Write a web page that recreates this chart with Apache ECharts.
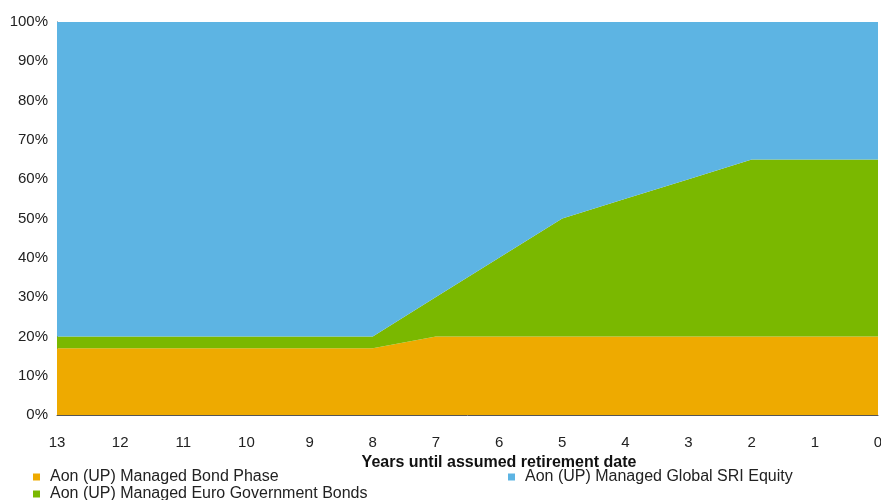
<!DOCTYPE html>
<html>
<head>
<meta charset="utf-8">
<script src="https://cdn.jsdelivr.net/npm/echarts@6/dist/echarts.min.js"></script>
<style>
    html, body { margin: 0; padding: 0; background: #fff; }
    #chart { width: 881px; height: 500px; }
</style>
</head>
<body>
<div id="chart"></div>
<script>
const years = ["13", "12", "11", "10", "9", "8", "7", "6", "5", "4", "3", "2", "1", "0"];
const bondPhase = [17, 17, 17, 17, 17, 17, 20, 20, 20, 20, 20, 20, 20, 20];
const euroGovBonds = [3, 3, 3, 3, 3, 3, 10, 20, 30, 35, 40, 45, 45, 45];
const globalEquity = [80, 80, 80, 80, 80, 80, 70, 60, 50, 45, 40, 35, 35, 35];

const names = {
    bond: "Aon (UP) Managed Bond Phase",
    euro: "Aon (UP) Managed Euro Government Bonds",
    equity: "Aon (UP) Managed Global SRI Equity",
};

const font = "Liberation Sans, Arial, sans-serif";

function legendAt(name, left, top) {
    return {
        data: [name],
        left,
        top,
        icon: "rect",
        itemWidth: 7,
        itemHeight: 7,
        itemGap: 0,
        padding: 0,
        textStyle: { fontFamily: font, fontSize: 16, color: "#222", padding: [0, 0, 0, 5] },
        selectedMode: false,
    };
}

function areaSeries(name, data, color) {
    return {
        type: "line",
        name,
        stack: "total",
        data,
        symbol: "none",
        lineStyle: { width: 0 },
        areaStyle: { color, opacity: 1 },
        itemStyle: { color },
    };
}

const chart = echarts.init(document.getElementById("chart"), null, { renderer: "canvas" });
chart.setOption({
    animation: false,
    grid: { left: 57, right: 3, top: 22, bottom: 85, outerBoundsMode: "none" },
    legend: [
        legendAt(names.bond, 33, 469),
        legendAt(names.equity, 508, 469),
        legendAt(names.euro, 33, 486),
    ],
    xAxis: {
        type: "category",
        data: years,
        boundaryGap: false,
        name: "Years until assumed retirement date",
        nameLocation: "middle",
        nameGap: 34,
        nameTextStyle: {
            fontFamily: font, fontSize: 16, fontWeight: "bold", color: "#111",
            padding: [0, 0, 0, 63],
        },
        axisLine: { lineStyle: { color: "#555", width: 1 } },
        axisTick: { show: false },
        axisLabel: { fontFamily: font, fontSize: 15, color: "#222", margin: 20 },
        splitLine: { show: false },
    },
    yAxis: {
        type: "value",
        min: 0,
        max: 100,
        interval: 10,
        axisLine: { show: true, lineStyle: { color: "#555", width: 1 } },
        axisTick: { show: false },
        axisLabel: { fontFamily: font, fontSize: 15, color: "#222", formatter: "{value}%", margin: 9 },
        splitLine: { show: false },
    },
    series: [
        areaSeries(names.bond, bondPhase, "#EEAA00"),
        areaSeries(names.euro, euroGovBonds, "#7AB800"),
        areaSeries(names.equity, globalEquity, "#5DB4E3"),
    ],
});
</script>
</body>
</html>
